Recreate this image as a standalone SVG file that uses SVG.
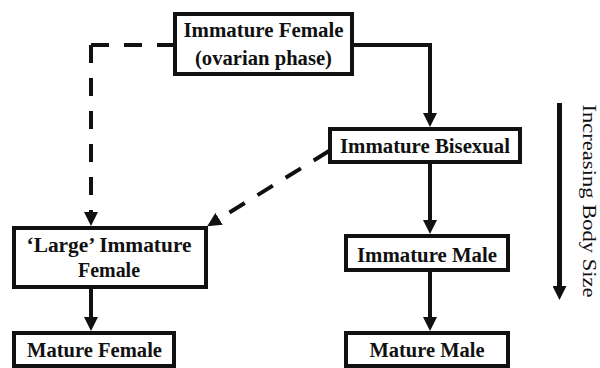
<svg xmlns="http://www.w3.org/2000/svg" width="600" height="368" viewBox="0 0 600 368">
<defs>
<marker id="ah" viewBox="0 0 14 14" refX="6" refY="7" markerWidth="14" markerHeight="14" markerUnits="userSpaceOnUse" orient="auto">
<path d="M0,0 L14,7 L0,14 z" fill="#111"/>
</marker>
</defs>
<style>
.box{fill:#fff;stroke:#111;stroke-width:4}
.t{font-family:"Liberation Serif","Times New Roman",serif;font-weight:bold;font-size:20px;fill:#111;text-anchor:middle}
.c{fill:none;stroke:#111;stroke-width:4}
.d{stroke-dasharray:18 15}
.a{marker-end:url(#ah)}
</style>
<rect width="600" height="368" fill="#fff"/>
<g id="connectors">
<path class="c a" d="M354,45 H430 V119"/>
<path class="c a" d="M430,164 V226"/>
<path class="c a" d="M430,272 V323"/>
<path class="c d" d="M91,45 H173"/>
<path class="c d a" d="M91,45 V218"/>
<path class="c d a" d="M329,151 L214,222"/>
<path class="c a" d="M91,289 V323"/>
</g>
<g id="n_immature_female">
<rect class="box" x="175" y="14" width="177" height="60"/>
<text class="t" x="263.5" y="37" textLength="160" lengthAdjust="spacingAndGlyphs">Immature Female</text>
<text class="t" x="263.5" y="65" textLength="137" lengthAdjust="spacingAndGlyphs">(ovarian phase)</text>
</g>
<g id="n_immature_bisexual">
<rect class="box" x="330" y="129" width="190" height="33"/>
<text class="t" x="425" y="153" textLength="170" lengthAdjust="spacingAndGlyphs">Immature Bisexual</text>
</g>
<g id="n_immature_male">
<rect class="box" x="346" y="236" width="162" height="34"/>
<text class="t" x="427" y="262" textLength="140" lengthAdjust="spacingAndGlyphs">Immature Male</text>
</g>
<g id="n_mature_male">
<rect class="box" x="346" y="333" width="162" height="33"/>
<text class="t" x="427" y="357" textLength="115" lengthAdjust="spacingAndGlyphs">Mature Male</text>
</g>
<g id="n_large_immature_female">
<rect class="box" x="14" y="228" width="192" height="59"/>
<text class="t" x="109" y="252" textLength="165" lengthAdjust="spacingAndGlyphs">‘Large’ Immature</text>
<text class="t" x="109" y="277" textLength="62" lengthAdjust="spacingAndGlyphs">Female</text>
</g>
<g id="n_mature_female">
<rect class="box" x="14" y="333" width="160" height="33"/>
<text class="t" x="94.5" y="357" textLength="135" lengthAdjust="spacingAndGlyphs">Mature Female</text>
</g>
<g id="size_axis">
<path class="c a" style="stroke-width:5" d="M559.5,103 V292"/>
<text class="t" transform="translate(583,201) rotate(90)" x="0" y="0" textLength="193" lengthAdjust="spacingAndGlyphs" style="font-weight:normal;font-size:18px">Increasing Body Size</text>
</g>
</svg>
